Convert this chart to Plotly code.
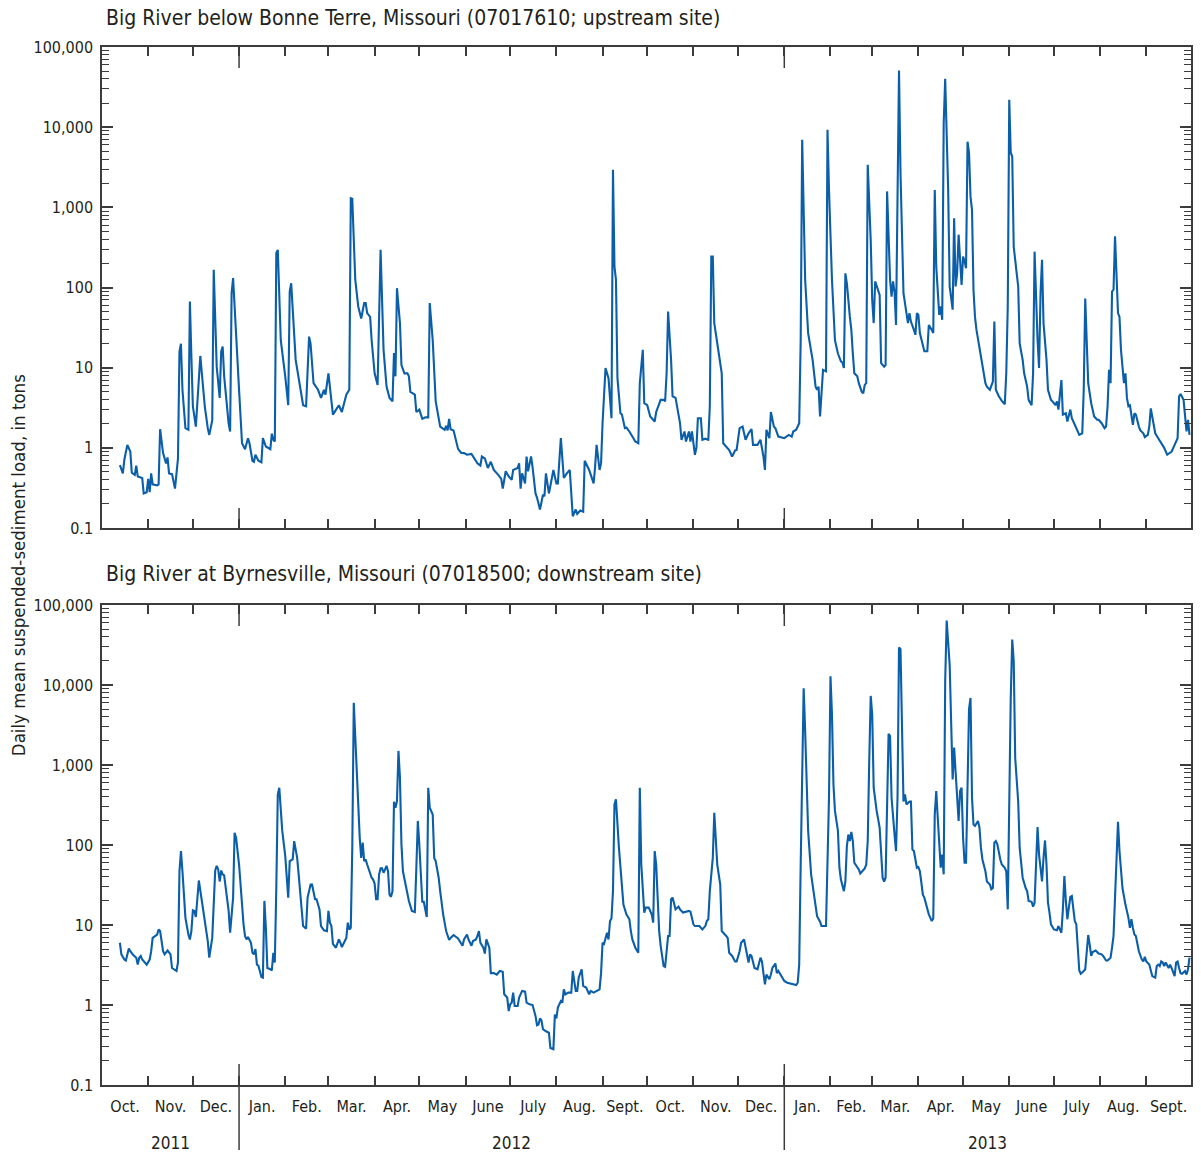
import pandas as pd
import plotly.graph_objects as go

# Daily mean suspended-sediment load (tons), water years 2012-2013.
# Each entry: (days since 2011-10-01, load in tons)
upstream = [
    (12, 0.61), (14, 0.48), (15, 0.71), (17, 1.09), (19, 0.9), (20, 0.49), (22, 0.46), (23, 0.6),
    (24, 0.44), (26, 0.43), (27, 0.42), (28, 0.27), (30, 0.28), (31, 0.41), (32, 0.28), (33, 0.48),
    (34, 0.35), (37, 0.34), (38, 0.35), (39, 1.71), (41, 0.86), (43, 0.64), (44, 0.76), (45, 0.48),
    (47, 0.47), (49, 0.31), (51, 0.74), (52, 15.9), (53, 19.9), (54, 5.3), (56, 1.76), (58, 1.68),
    (59, 67), (60, 13.8), (61, 3.3), (63, 1.84), (64, 3.3), (66, 14), (68, 5.3), (69, 3.3),
    (71, 1.76), (72, 1.45), (74, 2.2), (75, 166), (77, 10.3), (79, 4.2), (80, 16), (81, 18.4),
    (82, 7.8), (85, 2.0), (86, 1.6), (87, 85), (88, 131), (90, 22), (92, 5.3), (94, 1.14),
    (96, 0.96), (98, 1.32), (99, 1.14), (101, 0.69), (102, 0.67), (103, 0.82), (105, 0.69), (107, 0.66),
    (108, 1.32), (110, 1.04), (113, 0.96), (114, 1.5), (115, 1.26), (116, 1.2), (117, 269), (118, 295),
    (120, 22), (123, 7.8), (125, 3.4), (126, 89), (127, 113), (130, 12.5), (133, 5.3), (135, 3.4),
    (137, 3.3), (139, 24.4), (140, 20), (142, 6.4), (145, 5.3), (147, 4.2), (149, 5.3), (150, 4.6),
    (152, 8.5), (155, 2.6), (159, 3.4), (161, 2.8), (164, 4.6), (166, 5.3), (167, 1300), (168, 1280),
    (170, 125), (172, 58), (174, 41), (176, 64), (177, 64), (178, 48), (180, 43), (181, 22),
    (183, 8.5), (185, 6.1), (187, 295), (189, 16.7), (191, 5.8), (193, 4.2), (195, 3.8), (196, 15.2),
    (197, 7.8), (198, 98), (200, 36), (201, 10.8), (203, 8.5), (205, 8.5), (206, 7.8), (207, 5.0),
    (210, 4.6), (211, 2.8), (213, 3.0), (215, 2.3), (217, 2.4), (219, 2.4), (220, 64), (222, 22),
    (224, 3.8), (227, 1.84), (230, 1.68), (231, 1.88), (232, 1.65), (233, 2.3), (234, 1.71), (236, 1.65),
    (239, 0.97), (241, 0.87), (243, 0.86), (245, 0.82), (248, 0.84), (250, 0.74), (252, 0.64), (254, 0.60),
    (255, 0.78), (257, 0.74), (259, 0.56), (261, 0.67), (263, 0.53), (266, 0.46), (268, 0.41), (269, 0.31),
    (271, 0.51), (273, 0.44), (275, 0.40), (276, 0.53), (279, 0.56), (280, 0.64), (281, 0.31), (282, 0.48),
    (284, 0.36), (285, 0.78), (286, 0.51), (288, 0.78), (289, 0.58), (291, 0.27), (292, 0.24), (294, 0.17),
    (296, 0.26), (297, 0.25), (298, 0.48), (300, 0.27), (301, 0.35), (303, 0.53), (305, 0.36), (306, 0.36),
    (308, 1.32), (310, 0.42), (312, 0.48), (314, 0.53), (316, 0.14), (318, 0.17), (319, 0.15), (321, 0.165),
    (323, 0.16), (324, 0.69), (327, 0.53), (329, 0.40), (330, 0.36), (331, 0.58), (332, 1.09), (334, 0.53),
    (335, 0.64), (336, 2.03), (338, 9.9), (340, 7.4), (342, 2.34), (343, 2950), (344, 182), (345, 125),
    (346, 7.4), (348, 2.7), (349, 2.6), (351, 1.76), (352, 1.79), (354, 1.6), (356, 1.38), (358, 1.2),
    (360, 1.14), (361, 6.4), (362, 10.3), (363, 16.7), (364, 3.6), (366, 3.4), (368, 2.46), (371, 2.13),
    (372, 2.8), (375, 3.97), (377, 3.97), (378, 3.8), (379, 8.5), (380, 50), (382, 12.5), (383, 4.4),
    (385, 4.2), (387, 2.46), (388, 2.03), (389, 1.26), (391, 1.6), (392, 1.2), (394, 1.6), (395, 1.2),
    (396, 1.6), (398, 0.82), (399, 1.0), (400, 2.34), (402, 2.34), (403, 1.26), (405, 1.3), (407, 1.26),
    (408, 3.3), (409, 244), (410, 244), (411, 36), (414, 15.2), (416, 8.5), (417, 1.14), (419, 1.04),
    (421, 0.94), (423, 0.78), (425, 0.93), (426, 0.94), (428, 1.76), (430, 1.84), (432, 1.26), (434, 1.52),
    (436, 1.71), (437, 1.09), (440, 1.09), (442, 1.26), (444, 0.78), (445, 0.53), (446, 1.68), (448, 1.32),
    (449, 2.8), (451, 1.84), (452, 1.76), (454, 1.38), (458, 1.32), (461, 1.45), (463, 1.38), (464, 1.6),
    (466, 1.68), (468, 2.03), (469, 22), (470, 6950), (472, 125), (474, 27), (477, 12.5), (479, 5.8),
    (480, 5.3), (481, 5.8), (482, 2.46), (484, 9.4), (486, 9.0), (487, 9300), (488, 1650), (490, 125),
    (491, 53), (492, 22), (494, 15), (496, 12), (497, 11.6), (498, 9.9), (499, 150), (500, 113),
    (502, 43), (503, 29.6), (504, 15), (505, 8.5), (507, 7.8), (508, 6.4), (510, 5.0), (511, 4.8),
    (512, 6.1), (513, 6.4), (514, 3400), (516, 390), (517, 70), (518, 36), (519, 119), (521, 89),
    (522, 81), (523, 11.4), (525, 10.3), (526, 10.8), (527, 1580), (529, 125), (530, 77), (531, 119),
    (532, 89), (533, 34), (534, 1030), (535, 51000), (536, 2680), (537, 268), (538, 85), (540, 48),
    (541, 36), (542, 48), (543, 37.6), (545, 29.6), (546, 25.7), (547, 48), (548, 45.6), (549, 27),
    (551, 18.4), (552, 16), (554, 16), (555, 34), (557, 29.6), (558, 27), (559, 1650), (560, 182),
    (562, 45.6), (563, 58), (564, 39.5), (565, 11200), (566, 40000), (568, 1650), (569, 103), (571, 53),
    (572, 730), (573, 103), (574, 150), (575, 456), (577, 108), (578, 244), (579, 212), (580, 174),
    (581, 6600), (582, 4800), (583, 1360), (584, 930), (585, 93), (586, 43), (587, 29.6), (589, 18.4),
    (590, 13.1), (592, 9.0), (593, 6.4), (594, 5.8), (596, 5.3), (598, 6.7), (599, 37.6), (600, 5.3),
    (602, 4.4), (604, 3.86), (606, 3.5), (607, 8.5), (608, 58), (609, 22000), (610, 4800), (611, 4300),
    (612, 324), (614, 150), (615, 103), (616, 20), (618, 12.5), (619, 8.5), (621, 5.8), (622, 3.97),
    (624, 3.4), (625, 8.5), (626, 280), (628, 22), (629, 9.9), (630, 85), (631, 222), (632, 36),
    (634, 12.5), (635, 5.3), (637, 3.97), (638, 3.8), (640, 3.4), (641, 3.8), (642, 3.0), (644, 7.0),
    (645, 2.6), (647, 2.7), (648, 2.13), (650, 3.0), (651, 2.34), (653, 1.94), (655, 1.6), (656, 1.45),
    (658, 1.52), (659, 5.3), (660, 73), (661, 22), (662, 6.4), (664, 3.6), (666, 2.46), (668, 2.24),
    (669, 2.24), (671, 2.03), (673, 1.76), (674, 1.84), (675, 3.3), (676, 9.4), (677, 6.4), (678, 89),
    (679, 94), (680, 434), (681, 125), (682, 48), (683, 43), (684, 16.7), (686, 6.4), (687, 8.5),
    (688, 4.2), (689, 3.3), (690, 3.4), (691, 2.6), (692, 1.94), (693, 2.7), (694, 2.6), (696, 1.84),
    (697, 1.65), (699, 1.52), (700, 1.36), (702, 1.45), (703, 1.84), (704, 3.1), (706, 1.84), (707, 1.52),
    (709, 1.32), (711, 1.14), (713, 1.0), (715, 0.82), (718, 0.90), (720, 1.09), (722, 1.32), (723, 4.4),
    (724, 4.7), (726, 3.97), (727, 2.7), (728, 1.6), (729, 2.24), (730, 1.45),
]

downstream = [
    (12, 6.0), (13, 4.3), (15, 3.7), (16, 3.6), (18, 5.1), (19, 4.7), (21, 4.2), (23, 3.9),
    (24, 3.2), (25, 3.9), (26, 4.1), (27, 3.7), (30, 3.2), (32, 3.7), (33, 4.7), (34, 6.9),
    (37, 7.6), (38, 8.8), (39, 8.4), (41, 4.7), (42, 4.3), (44, 4.8), (46, 4.3), (47, 2.9),
    (50, 2.66), (51, 3.4), (52, 47), (53, 84), (54, 47), (56, 12.3), (58, 7.6), (59, 6.6),
    (60, 8.4), (61, 15.3), (62, 15), (63, 12.6), (65, 36), (67, 20), (68, 15), (70, 8),
    (71, 6.3), (72, 3.9), (74, 6.9), (76, 48), (77, 55), (78, 49.5), (79, 35), (80, 48),
    (81, 43), (82, 41.8), (83, 29), (85, 15), (86, 8), (88, 22), (89, 142), (90, 123),
    (92, 57), (93, 29), (95, 10.2), (96, 7.3), (97, 6.6), (98, 7.1), (100, 6.0), (101, 4.5),
    (102, 4.3), (103, 5.0), (104, 3.2), (105, 3.1), (107, 2.24), (108, 2.2), (109, 20), (110, 9.2),
    (111, 2.9), (113, 2.8), (114, 2.7), (115, 4.5), (116, 3.4), (117, 29), (118, 430), (119, 520),
    (121, 150), (123, 73), (124, 39), (125, 22), (126, 63), (128, 66), (129, 112), (131, 69),
    (132, 43), (134, 18), (135, 9.7), (137, 9.0), (138, 22), (140, 32), (141, 32), (143, 21),
    (144, 21), (146, 15.7), (147, 9.7), (149, 8.6), (150, 8.4), (151, 8.4), (152, 15), (153, 10.7),
    (154, 9.7), (155, 5.8), (157, 5.2), (159, 6.6), (160, 6.0), (161, 5.3), (163, 6.3), (164, 6.9),
    (165, 10.7), (166, 8.8), (167, 9.2), (168, 92), (169, 6000), (170, 2000), (172, 355), (173, 123),
    (174, 69), (175, 107), (176, 63), (177, 66), (178, 57), (180, 45), (181, 39), (182, 37),
    (183, 33), (184, 21), (185, 21), (186, 43), (187, 51), (188, 51), (189, 45), (190, 49.5),
    (191, 55), (192, 47), (193, 24), (194, 22.5), (195, 26.5), (196, 347), (197, 293), (198, 355),
    (199, 1500), (200, 690), (201, 102), (202, 47), (204, 30.6), (206, 20), (208, 15), (210, 14.5),
    (211, 52), (212, 200), (213, 102), (214, 35), (215, 19.5), (216, 19.5), (217, 15), (218, 12.6),
    (219, 520), (220, 293), (222, 240), (223, 69), (224, 63), (226, 39), (227, 26.5), (229, 13.6),
    (231, 8.4), (233, 6.5), (234, 6.9), (236, 7.5), (239, 6.8), (240, 6.3), (242, 5.5), (243, 6.6),
    (245, 7.6), (246, 6.6), (248, 5.5), (249, 6.3), (251, 6.6), (252, 7.3), (253, 8.4), (254, 6.0),
    (256, 5.2), (257, 4.4), (258, 6.6), (260, 5.2), (261, 2.5), (263, 2.5), (265, 2.4), (267, 2.66),
    (269, 2.6), (270, 1.36), (272, 1.24), (273, 0.84), (274, 1.02), (275, 1.07), (276, 1.43), (277, 0.97),
    (279, 0.97), (280, 1.24), (282, 1.5), (284, 1.47), (285, 1.07), (287, 1.02), (289, 1.0), (291, 0.73),
    (292, 0.56), (293, 0.57), (294, 0.68), (295, 0.64), (296, 0.50), (298, 0.47), (300, 0.45), (301, 0.29),
    (303, 0.28), (304, 0.76), (305, 0.68), (306, 0.93), (308, 1.12), (309, 1.07), (310, 1.57), (311, 1.36),
    (313, 1.43), (315, 1.43), (316, 2.66), (318, 1.5), (319, 1.5), (320, 2.2), (322, 2.8), (323, 1.73),
    (325, 1.65), (327, 1.36), (328, 1.5), (330, 1.43), (332, 1.5), (334, 1.57), (335, 2.5), (336, 6.0),
    (337, 5.8), (339, 8), (340, 6.6), (341, 11.2), (342, 12.1), (343, 26.5), (344, 322), (345, 372),
    (347, 92), (349, 32), (350, 18), (352, 13.6), (354, 11.8), (355, 8.4), (356, 6.6), (358, 5.2),
    (360, 4.5), (361, 520), (362, 57), (364, 14.3), (365, 16.5), (367, 16.5), (369, 13.6), (370, 10.7),
    (371, 84), (372, 57), (373, 18), (374, 8.4), (375, 5.5), (377, 3.07), (378, 3.0), (379, 4.7),
    (380, 7.3), (381, 7.3), (382, 21), (383, 22), (384, 18), (385, 15.7), (387, 17), (388, 15.7),
    (390, 14.3), (392, 14.7), (394, 15), (395, 14.7), (397, 10.2), (398, 9.7), (401, 9.7), (403, 8.8),
    (405, 9.7), (406, 11.2), (407, 11.8), (408, 26.5), (410, 69), (411, 253), (412, 123), (413, 57),
    (415, 32), (416, 8.4), (419, 7.3), (420, 6.9), (421, 4.5), (423, 4.1), (425, 3.5), (426, 3.5),
    (428, 4.7), (429, 6.0), (431, 6.6), (432, 5.2), (434, 3.4), (435, 4.3), (436, 4.1), (438, 2.9),
    (440, 2.8), (442, 3.9), (443, 3.5), (444, 2.5), (445, 1.81), (446, 2.4), (448, 2.1), (449, 2.4),
    (450, 2.9), (452, 3.3), (453, 2.5), (454, 2.66), (456, 2.3), (458, 2.0), (460, 1.9), (462, 1.85),
    (464, 1.81), (466, 1.78), (467, 1.9), (468, 3.2), (469, 57), (470, 1650), (471, 9100), (472, 2650),
    (474, 150), (476, 43), (478, 22), (480, 12.9), (482, 11), (483, 9.7), (486, 9.7), (488, 390),
    (489, 12900), (490, 4300), (491, 570), (492, 267), (494, 150), (495, 52), (496, 37), (498, 26.5),
    (499, 35), (500, 97), (501, 135), (502, 112), (503, 146), (504, 112), (505, 60), (507, 53),
    (508, 49.5), (509, 44), (510, 46), (512, 51), (513, 57), (514, 112), (515, 1100), (516, 7300),
    (517, 4300), (518, 520), (520, 267), (521, 210), (522, 165), (524, 39), (525, 35), (526, 39),
    (527, 390), (528, 2450), (529, 2300), (530, 390), (532, 135), (533, 84), (534, 390), (535, 29500),
    (536, 28000), (537, 1650), (538, 350), (539, 430), (540, 322), (542, 350), (543, 350), (544, 88),
    (545, 84), (546, 66), (547, 52), (548, 53), (549, 47), (550, 34), (551, 24), (552, 22),
    (554, 16.5), (555, 13.6), (557, 11.2), (558, 12.1), (559, 240), (560, 473), (561, 219), (563, 52),
    (564, 76), (565, 43), (566, 11200), (567, 64000), (569, 18000), (570, 2650), (571, 660), (572, 1650),
    (573, 760), (574, 390), (575, 200), (576, 473), (577, 520), (578, 123), (579, 60), (580, 60),
    (581, 925), (582, 5000), (583, 6900), (584, 390), (585, 180), (586, 173), (588, 200), (589, 165),
    (590, 92), (591, 66), (593, 47), (594, 35), (596, 32), (597, 28), (598, 29), (599, 107),
    (600, 112), (601, 102), (603, 66), (604, 57), (606, 52), (607, 47), (608, 15.7), (609, 390),
    (610, 6900), (611, 37000), (612, 20000), (613, 1220), (615, 350), (616, 92), (617, 63), (618, 39),
    (620, 29), (621, 26.5), (622, 20), (624, 19.5), (625, 17), (626, 19), (627, 57), (628, 168),
    (629, 76), (630, 47), (631, 35), (632, 69), (633, 114), (634, 57), (635, 19), (636, 14.3),
    (637, 10.2), (639, 8.8), (641, 8.6), (642, 9.7), (643, 8.8), (644, 8), (645, 15.7), (646, 41),
    (647, 20), (648, 11.8), (649, 16.5), (650, 22.4), (651, 23), (652, 15), (653, 11.2), (654, 10.2),
    (656, 2.7), (657, 2.46), (658, 2.6), (659, 2.66), (660, 2.8), (661, 4.7), (662, 7.5), (663, 5.7),
    (664, 4.1), (665, 4.6), (667, 4.8), (669, 4.4), (671, 4.3), (672, 4.1), (674, 3.6), (675, 3.6),
    (677, 3.9), (678, 5.2), (679, 7.3), (680, 22), (681, 92), (682, 195), (683, 84), (684, 43),
    (685, 29), (687, 18), (688, 15), (689, 12.3), (690, 9.2), (691, 11.8), (692, 9.2), (693, 7.6),
    (694, 7.3), (695, 5.7), (696, 4.7), (698, 3.7), (699, 3.5), (700, 4.0), (701, 3.5), (703, 3.2),
    (704, 2.66), (705, 2.3), (707, 2.2), (708, 3.07), (709, 3.2), (710, 3.07), (711, 3.5), (712, 3.4),
    (713, 3.07), (714, 3.4), (716, 2.9), (717, 3.2), (718, 2.9), (719, 2.5), (720, 2.3), (721, 3.4),
    (722, 3.5), (723, 2.9), (724, 2.5), (725, 2.46), (727, 2.66), (728, 2.4), (729, 2.8), (730, 3.9),
]

panel_titles = [
    "Big River below Bonne Terre, Missouri (07017610; upstream site)",
    "Big River at Byrnesville, Missouri (07018500; downstream site)",
]
y_title = "Daily mean suspended-sediment load, in tons"
y_tickvals = [0.1, 1, 10, 100, 1000, 10000, 100000]
y_ticktext = ["0.1", "1", "10", "100", "1,000", "10,000", "100,000"]
month_names = ["Oct.", "Nov.", "Dec.", "Jan.", "Feb.", "Mar.", "Apr.", "May", "June",
               "July", "Aug.", "Sept."]
year_labels = ["2011", "2012", "2013"]

START = pd.Timestamp("2011-10-01")
END = pd.Timestamp("2013-10-01")
FONT = "Liberation Sans Narrow, DejaVu Sans Condensed, Arial Narrow, sans-serif"
TEXT = "#231f20"
AXIS = "#3c3c3c"
LINE = "#0b5ea8"


def to_dates(days):
    return START + pd.to_timedelta(days, unit="D")


fig = go.Figure()
for series, xa, ya in [(upstream, "x", "y"), (downstream, "x2", "y2")]:
    days = [d for d, _ in series]
    load = [v for _, v in series]
    fig.add_trace(go.Scatter(
        x=to_dates(days), y=load, mode="lines", xaxis=xa, yaxis=ya,
        line=dict(color=LINE, width=2.1), showlegend=False, hoverinfo="skip",
    ))

month_starts = pd.date_range(START, END, freq="MS")
month_mids = [a + (b - a) / 2 for a, b in zip(month_starts[:-1], month_starts[1:])]
month_text = [month_names[i % 12] for i in range(len(month_mids))]

minor_y = [k * 10.0 ** e for e in range(-1, 5) for k in range(2, 10)]

# Month labels sit mid-month; the visible month ticks are the minor ticks at month starts.
common_x = dict(
    type="date", range=[START, END], showline=True, linecolor=AXIS, linewidth=1.5,
    mirror="ticks", showgrid=False, zeroline=False,
    tickmode="array", tickvals=month_mids, ticktext=month_text,
    ticks="outside", ticklen=6, tickcolor="rgba(0,0,0,0)",
    tickfont=dict(family=FONT, size=16, color=TEXT),
    minor=dict(tickmode="array", tickvals=list(month_starts[1:-1]), ticks="inside",
               ticklen=9, tickcolor=AXIS, tickwidth=1.5, showgrid=False),
)
common_y = dict(
    type="log", range=[-1, 5], showline=True, linecolor=AXIS, linewidth=1.5,
    mirror="ticks", showgrid=False, zeroline=False,
    tickmode="array", tickvals=y_tickvals, ticktext=y_ticktext,
    ticks="inside", ticklen=11, tickwidth=1.5, tickcolor=AXIS,
    ticklabelstandoff=4,
    tickfont=dict(family=FONT, size=16, color=TEXT),
    minor=dict(tickmode="array", tickvals=minor_y, ticks="inside", ticklen=7,
               tickcolor=AXIS, tickwidth=1.2, showgrid=False),
)

TOP_DOMAIN = [0.5366, 1.0]
BOT_DOMAIN = [0.0, 0.4624]

fig.update_layout(
    width=1201, height=1156,
    margin=dict(l=102, r=8, t=47, b=71),
    paper_bgcolor="white", plot_bgcolor="white",
    xaxis=dict(common_x, domain=[0, 1], anchor="y", showticklabels=False),
    yaxis=dict(common_y, domain=TOP_DOMAIN, anchor="x"),
    xaxis2=dict(common_x, domain=[0, 1], anchor="y2", showticklabels=True),
    yaxis2=dict(common_y, domain=BOT_DOMAIN, anchor="x2"),
)

# Long ticks marking calendar-year boundaries
span = (END - START).total_seconds()
px_h = 1156 - 47 - 71


def paper_y(pixel):
    return (1085 - pixel) / px_h


shapes = []
for yr in ["2012-01-01", "2013-01-01"]:
    fx = (pd.Timestamp(yr) - START).total_seconds() / span
    for y0, y1 in [(47, 68), (508, 528), (605, 626), (1064, 1150)]:
        shapes.append(dict(type="line", xref="paper", yref="paper", x0=fx, x1=fx,
                           y0=paper_y(y0), y1=paper_y(y1),
                           line=dict(color=AXIS, width=1.5)))
fig.update_layout(shapes=shapes)

annotations = []
# Panel titles
for title, py in zip(panel_titles, [18, 574]):
    annotations.append(dict(text=title, xref="paper", yref="paper", x=0.0015, y=paper_y(py),
                            xanchor="left", yanchor="middle", showarrow=False,
                            font=dict(family=FONT, size=21, color=TEXT)))
# Year labels centred on each calendar-year segment
year_spans = [(START, pd.Timestamp("2012-01-01")),
              (pd.Timestamp("2012-01-01"), pd.Timestamp("2013-01-01")),
              (pd.Timestamp("2013-01-01"), END)]
for label, (a, b) in zip(year_labels, year_spans):
    annotations.append(dict(text=label, xref="x2", yref="paper", x=a + (b - a) / 2,
                            y=paper_y(1143), xanchor="center", yanchor="middle",
                            showarrow=False, font=dict(family=FONT, size=17, color=TEXT)))
# Shared y-axis title
annotations.append(dict(text=y_title, xref="paper", yref="paper",
                        x=(18 - 102) / 1091, y=paper_y(565), textangle=-90,
                        xanchor="center", yanchor="middle", showarrow=False,
                        font=dict(family=FONT, size=18.5, color=TEXT)))
fig.update_layout(annotations=annotations)

fig.write_html("out.html")
